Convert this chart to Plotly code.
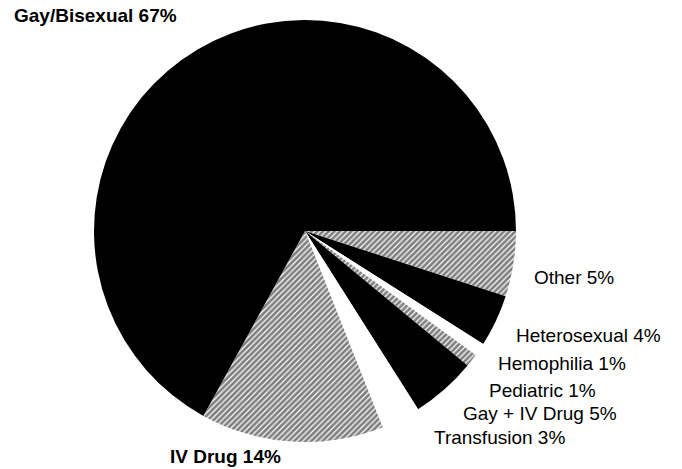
import plotly.graph_objects as go

# Data (clockwise from 3 o'clock)
labels = ["Other", "Heterosexual", "Hemophilia", "Pediatric",
          "Gay + IV Drug", "Transfusion", "IV Drug", "Gay/Bisexual"]
values = [5, 4, 1, 1, 5, 3, 14, 67]
fills = ["hatch", "black", "white", "hatch", "black", "white", "hatch", "black"]

W, H = 682, 469
# label anchor positions in pixels (left x, center y, bold)
label_pos = {
    "Gay/Bisexual": (12, 16, True),
    "Other": (532, 277, False),
    "Heterosexual": (514, 335, False),
    "Hemophilia": (496, 363, False),
    "Pediatric": (487, 390, False),
    "Gay + IV Drug": (461, 413, False),
    "Transfusion": (432, 437, False),
    "IV Drug": (168, 456, True),
}

colors, shapes, fg = [], [], []
for f in fills:
    if f == "hatch":
        colors.append("white"); shapes.append("/"); fg.append("black")
    elif f == "black":
        colors.append("black"); shapes.append(""); fg.append("black")
    else:
        colors.append("white"); shapes.append(""); fg.append("white")

cx, cy, r = 305, 231, 211
fig = go.Figure(go.Pie(
    labels=labels, values=values, sort=False, direction="clockwise",
    rotation=90, textinfo="none", hoverinfo="label+percent",
    marker=dict(colors=colors, line=dict(width=0),
                pattern=dict(shape=shapes, fgcolor=fg, bgcolor="white",
                             size=4, solidity=0.7, fillmode="overlay")),
    domain=dict(x=[(cx - r) / W, (cx + r) / W],
                y=[1 - (cy + r) / H, 1 - (cy - r) / H]),
    showlegend=False,
))

for lab, val in zip(labels, values):
    px, py, bold = label_pos[lab]
    txt = f"{lab} {val}%"
    fig.add_annotation(
        x=px / W, y=1 - py / H, xref="paper", yref="paper",
        xanchor="left", yanchor="middle", showarrow=False,
        text=f"<b>{txt}</b>" if bold else txt,
        font=dict(family="Liberation Sans, Arial, sans-serif", size=19, color="black"),
    )

fig.update_layout(width=W, height=H, margin=dict(l=0, r=0, t=0, b=0),
                  paper_bgcolor="white", plot_bgcolor="white")
fig.write_html("out.html", config={"displayModeBar": False},
               post_script="document.body.style.margin='0';document.body.style.padding='0';")
